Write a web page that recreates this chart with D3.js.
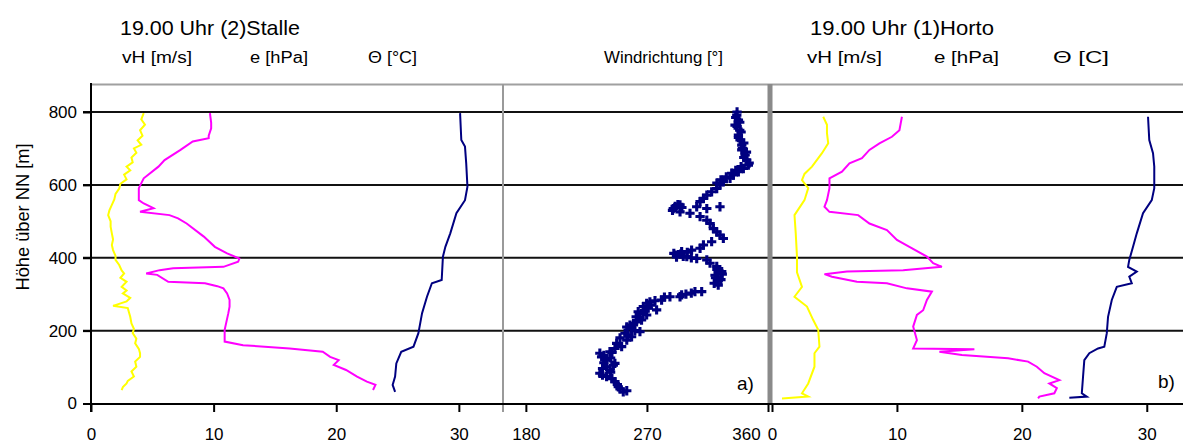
<!DOCTYPE html>
<html><head><meta charset="utf-8">
<script src="https://cdn.jsdelivr.net/npm/d3@7"></script>
<style>
body{margin:0;background:#fff}
svg{display:block}
text{font-family:"Liberation Sans",Arial,sans-serif;fill:#000}
</style>
</head><body>
<svg id="c" width="1183" height="444"></svg>
<script>
// ---------- data (value, height in m) ----------
const heightTicks = [0, 200, 400, 600, 800];
const leftTicks = [0, 10, 20, 30];
const dirTicks = [180, 270, 360];
const rightTicks = [0, 10, 20, 30];

// (2) Stalle
const stalleVh = [[4.3,797],[4.1,780],[4.4,765],[4.0,750],[4.2,735],[3.8,722],[4.1,710],[3.5,700],[3.7,688],[3.3,675],[3.4,662],[2.9,650],[3.2,640],[2.7,628],[2.9,615],[2.4,603],[2.3,590],[2.0,575],[1.9,560],[1.7,545],[1.5,530],[1.4,517],[1.6,500],[1.6,485],[1.7,467],[1.8,450],[1.7,435],[1.8,421],[2.0,405],[2.0,394],[2.3,380],[2.5,365],[2.7,357],[2.4,345],[2.9,334],[2.5,320],[2.9,310],[2.6,302],[3.2,290],[2.9,280],[1.8,268],[3.0,262],[3.1,250],[3.2,238],[3.3,220],[3.5,205],[3.4,193],[3.7,178],[3.6,165],[3.9,150],[4.0,138],[4.0,128],[3.6,115],[3.7,101],[3.3,88],[3.5,74],[3.0,62],[2.9,55],[2.6,45],[2.5,37]];
const stalleE = [[9.7,797],[9.8,770],[9.8,755],[9.6,735],[9.6,728],[8.3,719],[7.3,696],[6.0,668],[5.5,650],[4.3,618],[3.9,591],[3.9,558],[4.3,549],[5.1,536],[4.0,526],[6.4,517],[7.1,508],[7.8,494],[9.2,458],[10.1,430],[11.1,412],[12.1,398],[12.0,389],[10.8,375],[6.7,371],[5.6,366],[4.5,357],[5.4,353],[6.3,334],[9.3,330],[10.3,322],[10.8,316],[11.1,302],[11.3,284],[11.3,266],[11.2,248],[10.9,202],[10.9,170],[12.4,160],[16.2,151],[18.9,142],[19.5,128],[20.2,119],[19.8,106],[20.8,92],[21.7,74],[22.5,60],[23.2,51],[23.0,37]];
const stalleT = [[30.1,797],[30.2,723],[30.5,705],[30.6,659],[30.7,595],[30.5,558],[29.8,522],[29.3,467],[28.9,430],[28.7,403],[28.6,339],[27.8,330],[27.4,293],[27.0,248],[26.7,193],[26.3,156],[25.3,142],[24.9,110],[24.8,74],[24.6,51],[24.8,32]];

// Windrichtung (scatter)
const windDir = [[337,800],[336.8,791],[336,785],[338,778],[339,772],[335.5,764],[337,760],[339,750],[340,745],[338,737],[338,730],[339.2,723],[342,715],[340.5,709],[341,700],[340.5,696],[344,690],[343,682],[342,675],[344.2,668],[346,660],[345.4,654],[341.7,645],[340,650],[338,636],[336,640],[334.3,627],[333,632],[331.8,618],[329,622],[326.8,609],[325,614],[324.3,600],[322,605],[321.9,590],[318.1,581],[314.5,572],[312,563],[309.5,554],[294.6,545],[293,546],[324.3,540],[307,540],[291,541],[296,538],[314.5,535],[289.6,535],[289,530],[294.6,526],[302,522],[309.5,513],[314.5,503],[317,494],[319.4,480],[321.9,471],[324.3,462],[326.8,453],[318.1,444],[312,435],[309.5,426],[303.2,421],[295.8,417],[300,415],[290,412],[295,410],[292,407],[299.6,403],[297,404],[292,402],[303,400],[307,398],[314.5,394],[316.9,385],[321.9,376],[322,368],[325.6,362],[326,355],[320.6,352],[321,345],[325,340],[323,338],[320,330],[323,325],[310.7,307],[305.7,307],[303,303],[299,300],[295.8,298],[294.6,293],[287.1,293],[283,292],[280.9,284],[276,282],[272.2,279],[269.8,275],[273,270],[267.3,266],[271,262],[277.2,257],[268,255],[263.5,252],[269.8,243],[267,247],[262,238],[264.8,234],[266,229],[262.3,224],[260,220],[257.4,215],[255,210],[258.6,206],[261,200],[264.8,197],[253.7,193],[256,188],[258.6,183],[250,180],[255,174],[247.5,165],[251.2,156],[246.2,151],[244,140],[242.5,142],[235,138],[238,132],[236.3,128],[243,125],[240,119],[238,112],[246.2,110],[245,105],[240,101],[237,96],[242.5,92],[243,86],[235,83],[237,78],[240,74],[244,68],[246.2,60],[248,52],[248.7,46],[250,40],[255,35],[252.4,32]];

// (1) Horto
const hortoVh = [[4.1,787],[4.4,765],[4.4,742],[4.5,714],[4.0,687],[3.2,650],[2.6,630],[2.4,613],[2.9,591],[2.6,558],[1.8,517],[1.9,467],[2.0,403],[2.0,360],[2.4,320],[1.8,293],[2.8,266],[3.3,229],[3.7,202],[3.8,156],[3.4,138],[3.4,101],[2.9,55],[2.4,28],[2.9,19],[0.8,14]];
const hortoE = [[10.4,787],[10.2,750],[9.6,732],[8.6,714],[7.8,696],[7.2,673],[6.2,659],[5.6,636],[4.6,618],[4.6,591],[4.4,558],[4.2,540],[4.6,526],[6.9,517],[7.8,494],[9.2,476],[10.0,449],[11.0,430],[12.4,403],[12.9,385],[13.6,375],[10.5,366],[6.0,362],[4.2,355],[4.8,348],[6.8,334],[9.2,330],[10.8,316],[12.8,307],[12.4,284],[12.1,256],[11.6,243],[11.3,211],[11.6,174],[11.3,151],[16.2,149],[13.4,142],[15.2,133],[18.9,124],[20.5,115],[21.2,101],[21.8,83],[23.0,64],[22.2,55],[22.8,42],[22.6,28],[21.4,19],[21.3,14]];
const hortoT = [[30.1,787],[30.2,723],[30.5,687],[30.6,650],[30.6,591],[30.4,558],[29.7,522],[29.2,467],[28.9,430],[28.6,394],[28.5,375],[29.2,362],[28.6,348],[28.8,330],[27.6,320],[27.2,284],[26.9,238],[26.8,193],[26.6,156],[26.1,151],[25.4,138],[25.0,119],[24.9,74],[24.8,28],[25.2,19],[23.8,16]];

// ---------- scales ----------
const svg = d3.select("#c");
const y = d3.scaleLinear().domain([0, 800]).range([403.5, 112]);
const xL = d3.scaleLinear().domain([0, 33.6]).range([91, 503]);
const xM = d3.scaleLinear().domain([163, 360]).range([503, 768]);
const xR = d3.scaleLinear().domain([0, 32.9]).range([772, 1183]);

svg.append("rect").attr("width",1183).attr("height",444).attr("fill","#fff");

// top border
svg.append("line").attr("x1",91).attr("x2",1183).attr("y1",84.5).attr("y2",84.5)
  .attr("stroke","#a0a0a0").attr("stroke-width",2);

// gridlines
svg.append("g").selectAll("line").data(heightTicks.filter(d=>d>0)).join("line")
  .attr("x1",83).attr("x2",1183).attr("y1",d=>y(d)).attr("y2",d=>y(d))
  .attr("stroke","#111").attr("stroke-width",2);

// series lines
function drawLine(data, x, color){
  svg.append("path").datum(data)
    .attr("fill","none").attr("stroke",color).attr("stroke-width",2)
    .attr("stroke-linejoin","miter")
    .attr("d", d3.line().x(d=>x(d[0])).y(d=>y(d[1])));
}
drawLine(stalleVh, xL, "#ffff00");
drawLine(stalleE, xL, "#ff00ff");
drawLine(stalleT, xL, "#000080");
drawLine(hortoVh, xR, "#ffff00");
drawLine(hortoE, xR, "#ff00ff");
drawLine(hortoT, xR, "#000080");

// wind scatter
svg.append("g").selectAll("path").data(windDir).join("path")
  .attr("transform", d=>`translate(${xM(d[0])},${y(d[1])})`)
  .attr("d", d3.symbol(d3.symbolCross).size(48))
  .attr("fill","#000080");

// dividers
svg.append("line").attr("x1",503).attr("x2",503).attr("y1",84).attr("y2",412)
  .attr("stroke","#9a9a9a").attr("stroke-width",2);
svg.append("line").attr("x1",770).attr("x2",770).attr("y1",84).attr("y2",404)
  .attr("stroke","#8a8a8a").attr("stroke-width",5);

// axes lines
svg.append("line").attr("x1",83).attr("x2",1183).attr("y1",404).attr("y2",404)
  .attr("stroke","#000").attr("stroke-width",2);
svg.append("line").attr("x1",91).attr("x2",91).attr("y1",83).attr("y2",412)
  .attr("stroke","#000").attr("stroke-width",2);

function styleAxis(g){
  g.select(".domain").remove();
  g.selectAll(".tick line").attr("stroke","#000").attr("stroke-width",2);
  g.selectAll(".tick text").attr("font-size",17).attr("fill","#000")
    .attr("font-family","Liberation Sans, Arial, sans-serif");
}
svg.append("g").attr("transform","translate(91,0)")
  .call(d3.axisLeft(y).tickValues(heightTicks).tickSize(8).tickPadding(6).tickFormat(d3.format("d")))
  .call(styleAxis);
svg.append("g").attr("transform","translate(0,404)")
  .call(d3.axisBottom(xL).tickValues(leftTicks).tickSize(8).tickPadding(16))
  .call(styleAxis);
const gm = svg.append("g").attr("transform","translate(0,404)")
  .call(d3.axisBottom(xM).tickValues(dirTicks).tickSize(8).tickPadding(16))
  .call(styleAxis);
gm.selectAll(".tick text").filter(d=>d===360).attr("x",-22);
svg.append("g").attr("transform","translate(0,404)")
  .call(d3.axisBottom(xR).tickValues(rightTicks).tickSize(8).tickPadding(16))
  .call(styleAxis);

// texts
function txt(s, x, yy, size, len){
  const t = svg.append("text").attr("x",x).attr("y",yy).attr("font-size",size).text(s);
  if (len) t.attr("textLength",len).attr("lengthAdjust","spacingAndGlyphs");
  return t;
}
txt("19.00 Uhr (2)Stalle", 120, 35, 21, 180);
txt("vH [m/s]", 122, 63, 16, 70);
txt("e [hPa]", 250, 63, 16, 58);
txt("Θ [°C]", 368, 63, 16, 49);
txt("Windrichtung [°]", 604, 63, 16, 119);
txt("19.00 Uhr (1)Horto", 810, 35, 21, 184);
txt("vH [m/s]", 807, 63, 16, 75);
txt("e [hPa]", 934, 63, 16, 65);
txt("Θ [C]", 1053, 63, 16, 56);
txt("a)", 737, 390, 19);
txt("b)", 1158, 388, 19);
svg.append("text").attr("transform","translate(29,217) rotate(-90)")
  .attr("text-anchor","middle").attr("font-size",18)
  .attr("textLength",147).attr("lengthAdjust","spacingAndGlyphs")
  .text("Höhe über NN [m]");
</script>
</body></html>
